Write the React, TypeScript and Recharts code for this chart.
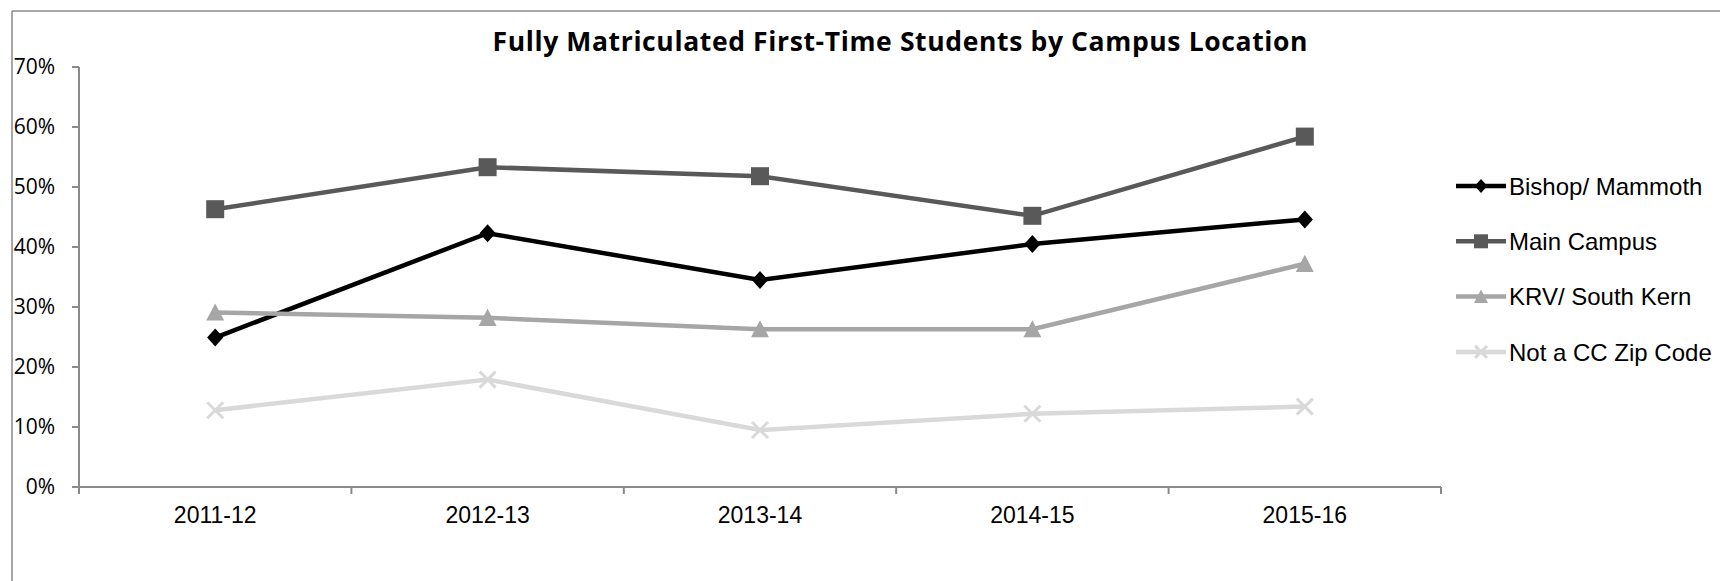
import React from 'react';
import { LineChart, Line, XAxis, YAxis, Legend } from 'recharts';

const years = ['2011-12', '2012-13', '2013-14', '2014-15', '2015-16'];
const bishopMammoth = [24.9, 42.3, 34.5, 40.5, 44.6];
const mainCampus = [46.3, 53.3, 51.8, 45.2, 58.4];
const krvSouthKern = [29.1, 28.2, 26.3, 26.3, 37.2];
const notCcZip = [12.8, 17.9, 9.5, 12.2, 13.4];
const yTicks = [0, 10, 20, 30, 40, 50, 60, 70];

const W = 1720;
const H = 581;
const PLOT_LEFT = 79;
const PLOT_RIGHT = 1441;
const BAND = (PLOT_RIGHT - PLOT_LEFT) / years.length;
const AXIS_COLOR = '#8a8a8a';

// Excel-like marker shapes
const Diamond = ({ cx, cy, fill, size = 9 }: any) => (
  <polygon
    points={`${cx},${cy - size} ${cx + size * 0.9},${cy} ${cx},${cy + size} ${cx - size * 0.9},${cy}`}
    fill={fill}
  />
);
const Square = ({ cx, cy, fill, size = 9 }: any) => (
  <rect x={cx - size} y={cy - size} width={size * 2} height={size * 2} fill={fill} />
);
const Triangle = ({ cx, cy, fill, size = 9 }: any) => (
  <polygon points={`${cx},${cy - size} ${cx + size},${cy + size * 0.9} ${cx - size},${cy + size * 0.9}`} fill={fill} />
);
const Cross = ({ cx, cy, fill, size = 8 }: any) => (
  <g stroke={fill} strokeWidth={3}>
    <line x1={cx - size} y1={cy - size} x2={cx + size} y2={cy + size} />
    <line x1={cx - size} y1={cy + size} x2={cx + size} y2={cy - size} />
  </g>
);

const series = [
  { key: 'bishop', name: 'Bishop/ Mammoth', values: bishopMammoth, color: '#000000', Marker: Diamond },
  { key: 'main', name: 'Main Campus', values: mainCampus, color: '#595959', Marker: Square },
  { key: 'krv', name: 'KRV/ South Kern', values: krvSouthKern, color: '#a6a6a6', Marker: Triangle },
  { key: 'notcc', name: 'Not a CC Zip Code', values: notCcZip, color: '#d9d9d9', Marker: Cross },
];

const chartData = years.map((year, i) => {
  const row: any = { year };
  series.forEach(s => {
    row[s.key] = s.values[i];
  });
  return row;
});

// category ticks sit between the bands, like Excel
const XTick = (props: any) => {
  const { x, y, payload, index } = props;
  const axisY = y - 20;
  return (
    <g>
      <line x1={x - BAND / 2} y1={axisY} x2={x - BAND / 2} y2={axisY + 7} stroke={AXIS_COLOR} strokeWidth={2} />
      {index === years.length - 1 && (
        <line x1={x + BAND / 2} y1={axisY} x2={x + BAND / 2} y2={axisY + 7} stroke={AXIS_COLOR} strokeWidth={2} />
      )}
      <text x={x} y={y} dy="0.71em" textAnchor="middle" fill="#000" fontSize={23} fontFamily="'Liberation Sans', Arial, sans-serif">
        {payload.value}
      </text>
    </g>
  );
};

const renderLegend = () => (
  <svg width={280} height={230}>
    {series.map((s, i) => {
      const cy = 26 + i * 55.3;
      return (
        <g key={s.key}>
          <line x1={16} y1={cy} x2={66} y2={cy} stroke={s.color} strokeWidth={4.5} />
          <s.Marker cx={41} cy={cy} fill={s.color} size={s.key === 'notcc' ? 6 : 7} />
          <text x={69} y={cy} dy="0.36em" fill="#000" fontSize={24} fontFamily="'Liberation Sans', Arial, sans-serif">
            {s.name}
          </text>
        </g>
      );
    })}
  </svg>
);

const App: React.FC = () => {
  return (
    <div style={{ position: 'absolute', left: 0, top: 0, width: W, height: H, background: '#fff' }}>
      <LineChart
        width={W}
        height={H}
        data={chartData}
        margin={{ top: 67, right: W - PLOT_RIGHT, left: 0, bottom: 0 }}
      >
        <XAxis
          dataKey="year"
          height={94}
          padding={{ left: BAND / 2, right: BAND / 2 }}
          axisLine={{ stroke: AXIS_COLOR, strokeWidth: 2 }}
          tickLine={false}
          tickSize={7}
          tickMargin={13}
          tick={<XTick />}
          interval={0}
        />
        <YAxis
          width={PLOT_LEFT}
          domain={[0, 70]}
          ticks={yTicks}
          interval={0}
          tickFormatter={(v: number) => `${v}%`}
          axisLine={{ stroke: AXIS_COLOR, strokeWidth: 2 }}
          tickLine={{ stroke: AXIS_COLOR, strokeWidth: 2 }}
          tickSize={7}
          tickMargin={17}
          tick={{ fill: '#000', fontSize: 21, fontFamily: "'Open Sans', sans-serif" }}
        />
        <Legend
          layout="vertical"
          align="center"
          verticalAlign="middle"
          content={renderLegend}
          wrapperStyle={{ position: 'absolute', left: 1440, top: 160, width: 280, height: 230 }}
        />
        {series.map(s => (
          <Line
            key={s.key}
            type="linear"
            dataKey={s.key}
            name={s.name}
            stroke={s.color}
            strokeWidth={4.5}
            dot={(p: any) => <s.Marker key={`${s.key}-${p.index}`} cx={p.cx} cy={p.cy} fill={s.color} />}
            activeDot={false}
            isAnimationActive={false}
          />
        ))}
      </LineChart>
      <svg width={W} height={H} style={{ position: 'absolute', left: 0, top: 0, pointerEvents: 'none' }}>
        <line x1={12} y1={11} x2={W} y2={11} stroke={AXIS_COLOR} strokeWidth={1.5} />
        <line x1={12} y1={11} x2={12} y2={H} stroke={AXIS_COLOR} strokeWidth={1.5} />
        <text
          x={900}
          y={51}
          textAnchor="middle"
          fontSize={26.5}
          fontWeight="bold"
          fill="#000"
          fontFamily="'Open Sans', sans-serif"
          textLength={815}
          lengthAdjust="spacing"
        >
          Fully Matriculated First-Time Students by Campus Location
        </text>
      </svg>
    </div>
  );
};

export default App;
